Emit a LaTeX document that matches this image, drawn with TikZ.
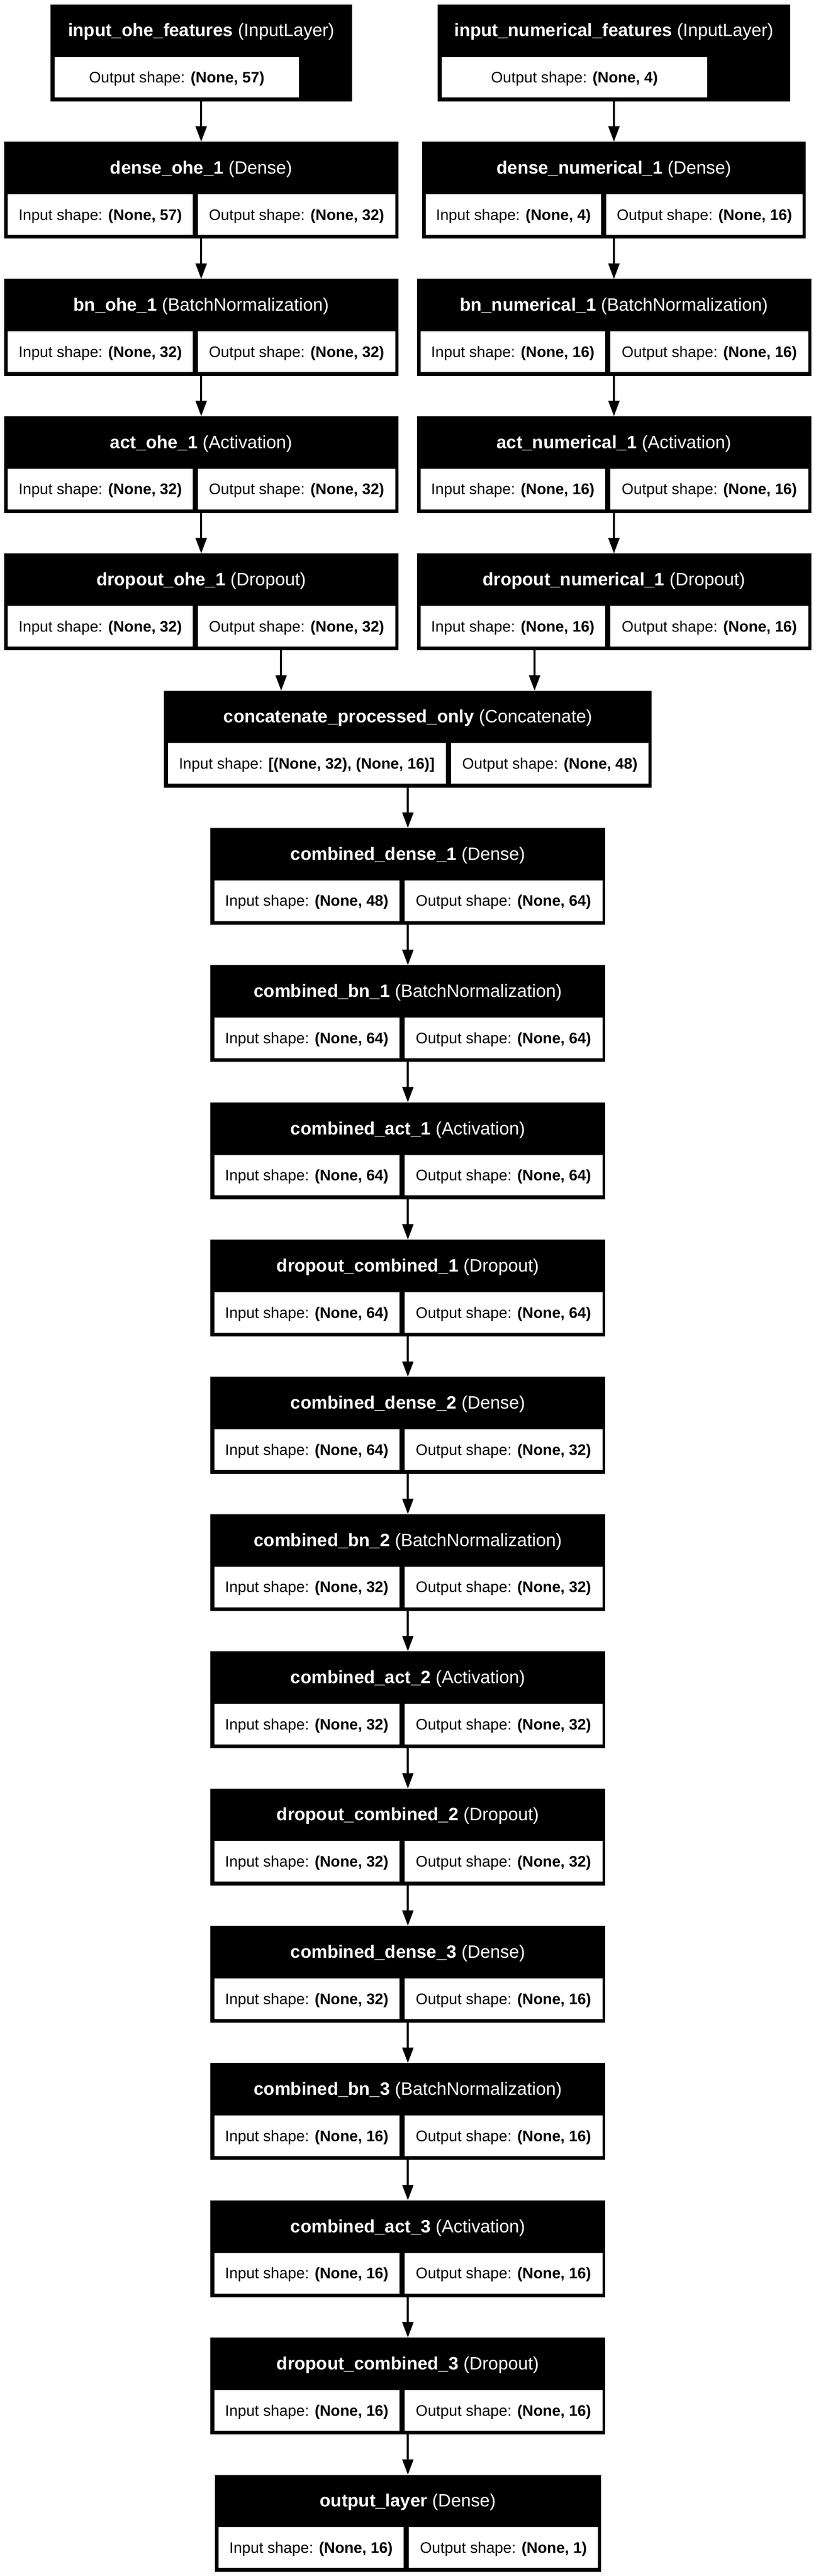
\documentclass[tikz,border=0pt]{standalone}
\usepackage{fontspec}
\setmainfont{Liberation Sans}
\usetikzlibrary{arrows.meta}

% one layer: name, centre x, row, in-cell width, out-cell width, layer, class, input, output
\newcommand{\layer}[9]{%
    \pgfmathsetmacro{\boxw}{#4+#5+0.24}
    \pgfmathsetmacro{\boxtop}{-0.11-3.375*#3}
    \node[layerbox, minimum width = \boxw cm, anchor = north] (#1) at (#2,\boxtop) {};
    \node[titletext] at ([yshift = -0.63cm]#1.north) {\textbf{#6} (#7)};
    \node[cellbox, minimum width = #4cm, anchor = north west] (#1-in) at ([shift = {(0.07,-1.27)}]#1.north west) {Input shape: \textbf{#8}};
    \node[cellbox, minimum width = #5cm, anchor = north west] (#1-out) at ([xshift = 0.09cm]#1-in.north east) {Output shape: \textbf{#9}};
}
% input layer: name, centre x, box width, cell width, layer, output
\newcommand{\inlayer}[6]{%
    \node[layerbox, minimum width = #3cm, anchor = north] (#1) at (#2,-0.11) {};
    \node[titletext] at ([yshift = -0.63cm]#1.north) {\textbf{#5} (InputLayer)};
    \node[cellbox, minimum width = #4cm, anchor = north west] (#1-out) at ([shift = {(0.08,-1.27)}]#1.north west) {Output shape: \textbf{#6}};
}

\begin{document}
\begin{tikzpicture}[
        layerbox/.style = {fill = black, draw = black, line width = 0.01cm, minimum height = 2.37cm, inner sep = 0pt},
        titletext/.style = {text = white, font = \fontsize{12.5pt}{15pt}\selectfont, text depth = 0pt, inner sep = 0pt},
        cellbox/.style = {fill = white, draw = black, line width = 0.02cm, minimum height = 1.02cm, inner sep = 0pt, text depth = 0pt, font = \fontsize{10.67pt}{13pt}\selectfont},
        link/.style = {line width = 0.05cm, -{Triangle[length = 0.38cm, width = 0.27cm]}}
    ]
    \useasboundingbox (0,0) rectangle (20.05,-63.35);

    % one-hot branch
    \inlayer{inohe}{4.945}{7.40}{6.03}{input\_ohe\_features}{(None, 57)}
    \layer{denseohe}{4.945}{1}{4.56}{4.87}{dense\_ohe\_1}{Dense}{(None, 57)}{(None, 32)}
    \layer{bnohe}{4.945}{2}{4.56}{4.87}{bn\_ohe\_1}{BatchNormalization}{(None, 32)}{(None, 32)}
    \layer{actohe}{4.945}{3}{4.56}{4.87}{act\_ohe\_1}{Activation}{(None, 32)}{(None, 32)}
    \layer{dropohe}{4.945}{4}{4.56}{4.87}{dropout\_ohe\_1}{Dropout}{(None, 32)}{(None, 32)}

    % numerical branch
    \inlayer{innum}{15.09}{8.66}{6.55}{input\_numerical\_features}{(None, 4)}
    \layer{densenum}{15.09}{1}{4.32}{4.85}{dense\_numerical\_1}{Dense}{(None, 4)}{(None, 16)}
    \layer{bnnum}{15.09}{2}{4.56}{4.88}{bn\_numerical\_1}{BatchNormalization}{(None, 16)}{(None, 16)}
    \layer{actnum}{15.09}{3}{4.56}{4.88}{act\_numerical\_1}{Activation}{(None, 16)}{(None, 16)}
    \layer{dropnum}{15.09}{4}{4.56}{4.88}{dropout\_numerical\_1}{Dropout}{(None, 16)}{(None, 16)}

    % merged trunk
    \layer{concat}{10.025}{5}{6.85}{4.88}{concatenate\_processed\_only}{Concatenate}{[(None, 32), (None, 16)]}{(None, 48)}
    \layer{cdense1}{10.025}{6}{4.57}{4.88}{combined\_dense\_1}{Dense}{(None, 48)}{(None, 64)}
    \layer{cbn1}{10.025}{7}{4.57}{4.88}{combined\_bn\_1}{BatchNormalization}{(None, 64)}{(None, 64)}
    \layer{cact1}{10.025}{8}{4.57}{4.88}{combined\_act\_1}{Activation}{(None, 64)}{(None, 64)}
    \layer{cdrop1}{10.025}{9}{4.57}{4.88}{dropout\_combined\_1}{Dropout}{(None, 64)}{(None, 64)}
    \layer{cdense2}{10.025}{10}{4.57}{4.88}{combined\_dense\_2}{Dense}{(None, 64)}{(None, 32)}
    \layer{cbn2}{10.025}{11}{4.57}{4.88}{combined\_bn\_2}{BatchNormalization}{(None, 32)}{(None, 32)}
    \layer{cact2}{10.025}{12}{4.57}{4.88}{combined\_act\_2}{Activation}{(None, 32)}{(None, 32)}
    \layer{cdrop2}{10.025}{13}{4.57}{4.88}{dropout\_combined\_2}{Dropout}{(None, 32)}{(None, 32)}
    \layer{cdense3}{10.025}{14}{4.57}{4.88}{combined\_dense\_3}{Dense}{(None, 32)}{(None, 16)}
    \layer{cbn3}{10.025}{15}{4.57}{4.88}{combined\_bn\_3}{BatchNormalization}{(None, 16)}{(None, 16)}
    \layer{cact3}{10.025}{16}{4.57}{4.88}{combined\_act\_3}{Activation}{(None, 16)}{(None, 16)}
    \layer{cdrop3}{10.025}{17}{4.57}{4.88}{dropout\_combined\_3}{Dropout}{(None, 16)}{(None, 16)}
    \layer{outlayer}{10.025}{18}{4.57}{4.67}{output\_layer}{Dense}{(None, 16)}{(None, 1)}

    % connectors
    \draw[link] (inohe.south) -- (denseohe.north);
    \draw[link] (denseohe.south) -- (bnohe.north);
    \draw[link] (bnohe.south) -- (actohe.north);
    \draw[link] (actohe.south) -- (dropohe.north);
    \draw[link] (innum.south) -- (densenum.north);
    \draw[link] (densenum.south) -- (bnnum.north);
    \draw[link] (bnnum.south) -- (actnum.north);
    \draw[link] (actnum.south) -- (dropnum.north);
    \path (concat.north west) -- (concat.north east) coordinate[pos = 0.24] (catA) coordinate[pos = 0.76] (catB);
    \draw[link] (dropohe.south -| catA) -- (catA);
    \draw[link] (dropnum.south -| catB) -- (catB);
    \draw[link] (concat.south) -- (cdense1.north);
    \draw[link] (cdense1.south) -- (cbn1.north);
    \draw[link] (cbn1.south) -- (cact1.north);
    \draw[link] (cact1.south) -- (cdrop1.north);
    \draw[link] (cdrop1.south) -- (cdense2.north);
    \draw[link] (cdense2.south) -- (cbn2.north);
    \draw[link] (cbn2.south) -- (cact2.north);
    \draw[link] (cact2.south) -- (cdrop2.north);
    \draw[link] (cdrop2.south) -- (cdense3.north);
    \draw[link] (cdense3.south) -- (cbn3.north);
    \draw[link] (cbn3.south) -- (cact3.north);
    \draw[link] (cact3.south) -- (cdrop3.north);
    \draw[link] (cdrop3.south) -- (outlayer.north);
\end{tikzpicture}
\end{document}
